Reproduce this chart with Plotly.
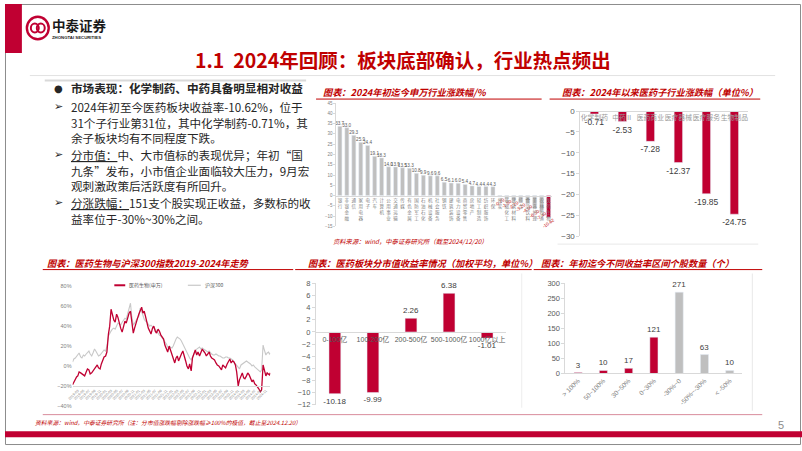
import plotly.graph_objects as go

# ---------------- data ----------------
sw_industries = ["银行", "非银金融", "通信", "家用电器", "电子", "汽车", "计算机", "公用事业",
                 "交通运输", "传媒", "有色金属", "国防军工", "石油石化", "机械设备", "社会服务",
                 "钢铁", "建筑装饰", "电力设备", "商贸零售", "房地产", "轻工制造", "纺织服饰",
                 "环保", "煤炭", "基础化工", "建筑材料", "综合", "食品饮料", "美容护理",
                 "农林牧渔", "医药生物"]
sw_returns = [33.7, 33.0, 29.3, 25.9, 24.4, 19.1, 18.3, 14.0, 13.9, 13.5, 13.3, 10.8, 9.9,
              9.6, 9.6, 6.5, 6.1, 6.0, 5.4, 4.7, 4.4, 4.4, 4.3, -0.7, -1.5, -2.2, -3.2,
              -4.0, -6.3, -7.4, -10.62]

sub_industries = ["化学制药", "中药Ⅱ", "医药商业", "医疗器械", "医疗服务", "生物制品"]
sub_returns = [-0.71, -2.53, -7.28, -12.37, -19.85, -24.75]

index_dates = [
    "2019-01-02", "2019-01-16", "2019-02-01", "2019-02-15", "2019-03-01", "2019-03-15",
    "2019-04-01", "2019-04-15", "2019-05-01", "2019-05-15", "2019-06-01", "2019-06-15",
    "2019-07-01", "2019-07-15", "2019-08-01", "2019-08-15", "2019-09-01", "2019-09-15",
    "2019-10-01", "2019-10-15", "2019-11-01", "2019-11-15", "2019-12-01", "2019-12-15",
    "2020-01-01", "2020-01-15", "2020-02-01", "2020-02-15", "2020-03-01", "2020-03-15",
    "2020-04-01", "2020-04-15", "2020-05-01", "2020-05-15", "2020-06-01", "2020-06-15",
    "2020-07-01", "2020-07-15", "2020-08-01", "2020-08-15", "2020-09-01", "2020-09-15",
    "2020-10-01", "2020-10-15", "2020-11-01", "2020-11-15", "2020-12-01", "2020-12-15",
    "2021-01-01", "2021-01-15", "2021-02-01", "2021-02-15", "2021-03-01", "2021-03-15",
    "2021-04-01", "2021-04-15", "2021-05-01", "2021-05-15", "2021-06-01", "2021-06-15",
    "2021-07-01", "2021-07-15", "2021-08-01", "2021-08-15", "2021-09-01", "2021-09-15",
    "2021-10-01", "2021-10-15", "2021-11-01", "2021-11-15", "2021-12-01", "2021-12-15",
    "2022-01-01", "2022-01-15", "2022-02-01", "2022-02-15", "2022-03-01", "2022-03-15",
    "2022-04-01", "2022-04-15", "2022-05-01", "2022-05-15", "2022-06-01", "2022-06-15",
    "2022-07-01", "2022-07-15", "2022-08-01", "2022-08-15", "2022-09-01", "2022-09-15",
    "2022-10-01", "2022-10-15", "2022-11-01", "2022-11-15", "2022-12-01", "2022-12-15",
    "2023-01-01", "2023-01-15", "2023-02-01", "2023-02-15", "2023-03-01", "2023-03-15",
    "2023-04-01", "2023-04-15", "2023-05-01", "2023-05-15", "2023-06-01", "2023-06-15",
    "2023-07-01", "2023-07-15", "2023-08-01", "2023-08-15", "2023-09-01", "2023-09-15",
    "2023-10-01", "2023-10-15", "2023-11-01", "2023-11-15", "2023-12-01", "2023-12-15",
    "2024-01-01", "2024-01-15", "2024-02-01", "2024-02-15", "2024-03-01", "2024-03-15",
    "2024-04-01", "2024-04-15", "2024-05-01", "2024-05-15", "2024-06-01", "2024-06-15",
    "2024-07-01", "2024-07-15", "2024-08-01", "2024-08-15", "2024-09-01", "2024-09-15",
    "2024-10-01", "2024-10-15", "2024-11-01", "2024-11-15", "2024-12-01", "2024-12-10",
    "2024-12-20"]
pharma_index = [
    -19, -16, -14, -11, -10, -6, -7, -8, -9, -10, -6, -3, -4, -8, -7, -5, -3, 0, 1, -2, -3, 2, 6, 9,
    10, 14, 32, 40, 57, 52, 46, 44, 52, 49, 42, 38, 34, 40, 45, 43, 49, 53, 55, 47, 33, 38, 44, 47,
    52, 56, 59, 53, 55, 50, 42, 38, 35, 32, 38, 40, 35, 33, 37, 35, 31, 29, 27, 21, 18, 14, 20, 16,
    10, 6, 3, 8, 10, 5, 8, 12, 15, 9, 5, 0, -3, 2, -5, 8, 14, 16, 11, 14, 10, 13, 17, 15,
    13, 10, 12, 14, 10, 8, 7, 6, 3, 1, 0, -2, -4, 1, -1, -2, 2, 5, 7, 3, 5, 4, 1, -6,
    -20, -14, -9, -7, -12, -13, -10, -7, -9, -12, -16, -14, -18, -19, -21, -23, -26, -24,
    1, -5, -10, -7, -8, -9, -7]
hs300_index = [
    4, 7, 8, 10, 11, 13, 9, 8, 11, 10, 12, 13, 15, 12, 10, 13, 17, 15, 12, 10, 11, 13, 14, 16,
    15, 20, 30, 33, 35, 37, 38, 37, 41, 43, 42, 41, 44, 46, 48, 47, 52, 56, 63, 50, 41, 43, 46, 48,
    50, 58, 55, 50, 47, 45, 44, 42, 40, 41, 39, 38, 37, 35, 33, 31, 30, 28, 27, 24, 22, 19, 17, 19,
    18, 20, 25, 27, 29, 28, 27, 25, 22, 18, 15, 12, 10, 8, 6, 9, 12, 15, 17, 18, 19, 17, 18, 17,
    16, 15, 14, 15, 13, 12, 11, 11, 12, 11, 10, 10, 9, 8, 8, 9, 9, 8, 8, 7, 6, 4, 2, 0,
    -1, -3, 1, 2, 3, 4, 5, 4, 3, 2, 0, 1, -1, -2, -3, -4, -6, -4,
    21, 16, 11, 13, 14, 12, 13]
series_names = ["医药生物(申万)", "沪深300"]

cap_buckets = ["0-100亿", "100-200亿", "200-500亿", "500-1000亿", "1000亿以上"]
cap_returns = [-10.18, -9.99, 2.26, 6.38, -1.01]

ret_bins = ["> 100%", "50~100%", "30~50%", "0~30%", "-30%~0", "-50%~-30%", "< -50%"]
bin_counts = [3, 10, 17, 121, 271, 63, 10]

# ---------------- helpers ----------------
W, H = 802, 451
def px(x): return x / W
def py(y): return 1 - y / H

RED = "#C00032"
TRED = "#C00000"
GRAY_BAR = "#BFBFBF"
GRAY_LINE = "#C8C8C8"
CJK = "Noto Sans CJK SC"
NUM = "Liberation Sans, Noto Sans CJK SC"

def vert(s):
    return "<br>".join(list(s))

fig = go.Figure()

# top-middle: SW industries
pos_idx = [i for i, v in enumerate(sw_returns) if v >= 0]
neg_idx = [i for i, v in enumerate(sw_returns) if v < 0]
fig.add_trace(go.Bar(
    x=[sw_industries[i] for i in pos_idx], y=[sw_returns[i] for i in pos_idx],
    marker_color=GRAY_BAR, width=0.58,
    text=[f"{sw_returns[i]:.1f}" for i in pos_idx], textposition="outside",
    textangle=0, constraintext="none", cliponaxis=False,
    textfont=dict(size=4.6, color="#595959", family=NUM),
    xaxis="x", yaxis="y", showlegend=False))
fig.add_trace(go.Bar(
    x=[sw_industries[i] for i in neg_idx], y=[sw_returns[i] for i in neg_idx],
    marker_color=[RED if sw_industries[i] == "医药生物" else GRAY_BAR for i in neg_idx],
    width=0.58,
    text=[f"{sw_returns[i]:.2f}" for i in neg_idx], textposition="outside",
    textangle=-35, constraintext="none", cliponaxis=False,
    textfont=dict(size=4.6, color=TRED, family=NUM),
    xaxis="x", yaxis="y", showlegend=False))

# top-right: pharma sub industries
fig.add_trace(go.Bar(
    x=sub_industries, y=sub_returns, marker_color=RED, width=0.3,
    text=[f"{v:.2f}" for v in sub_returns], textposition="outside", textangle=0,
    constraintext="none", cliponaxis=False,
    textfont=dict(size=8.5, color="#404040", family=NUM),
    xaxis="x2", yaxis="y2", showlegend=False))

# bottom-left: lines
fig.add_trace(go.Scatter(
    x=index_dates, y=hs300_index, mode="lines", name=series_names[1],
    line=dict(color=GRAY_LINE, width=1.1), xaxis="x3", yaxis="y3", showlegend=False))
fig.add_trace(go.Scatter(
    x=index_dates, y=pharma_index, mode="lines", name=series_names[0],
    line=dict(color=RED, width=1.3), xaxis="x3", yaxis="y3", showlegend=False))

# bottom-middle: market cap
fig.add_trace(go.Bar(
    x=cap_buckets, y=cap_returns, marker_color=RED, width=0.31,
    text=[f"{v:.2f}" for v in cap_returns], textposition="outside", textangle=0,
    constraintext="none", cliponaxis=False,
    textfont=dict(size=8, color="#404040", family=NUM),
    xaxis="x4", yaxis="y4", showlegend=False))

# bottom-right: return bins
fig.add_trace(go.Bar(
    x=ret_bins, y=bin_counts,
    marker_color=[RED if i < 4 else GRAY_BAR for i in range(len(ret_bins))], width=0.32,
    text=[str(v) for v in bin_counts], textposition="outside", textangle=0,
    constraintext="none", cliponaxis=False,
    textfont=dict(size=8, color="#404040", family=NUM),
    xaxis="x5", yaxis="y5", showlegend=False))

AX = dict(showgrid=False, zeroline=False, showline=True, linecolor="#D9D9D9",
          linewidth=1, fixedrange=True)

layout = dict(
    width=W, height=H, margin=dict(l=0, r=0, t=0, b=0),
    paper_bgcolor="white", plot_bgcolor="rgba(0,0,0,0)",
    barmode="overlay", font=dict(family=CJK), showlegend=False,
    xaxis=dict(AX, domain=[px(333.5), px(550.5)], range=[-0.5, 30.5], anchor="free",
               position=py(196), type="category", tickvals=sw_industries,
               ticktext=[vert(s) for s in sw_industries], ticks="", tickangle=0,
               tickfont=dict(size=4.5, color="#7F7F7F", family=CJK)),
    yaxis=dict(AX, domain=[py(227), py(101)], range=[-15.05, 45.05], dtick=5, anchor="x",
               ticks="outside", ticklen=2, tickcolor="#D9D9D9",
               tickfont=dict(size=4.5, color="#7F7F7F", family=NUM)),
    xaxis2=dict(AX, domain=[px(579), px(748)], range=[-0.5, 5.5], anchor="free",
                position=py(109), ticks="", tickangle=0,
                tickfont=dict(size=6.8, color="#9A9A9A", family=CJK)),
    yaxis2=dict(AX, domain=[py(237), py(109)], range=[-30.05, 0.05], dtick=5, anchor="x2",
                ticks="outside", ticklen=3, tickcolor="#D9D9D9",
                tickfont=dict(size=8, color="#595959", family=NUM)),
    xaxis3=dict(AX, type="date", domain=[px(68), px(267)],
                range=["2019-01-02", "2024-12-20"], anchor="free", position=py(390),
                dtick="M2", tick0="2019-01-01", tickformat="%Y-%m", tickangle=-45,
                ticks="", tickfont=dict(size=3.6, color="#7F7F7F", family=NUM)),
    yaxis3=dict(AX, domain=[py(410), py(288)], range=[-40.1, 80.1], dtick=20,
                ticksuffix="%", anchor="x3", showline=False,
                tickfont=dict(size=5.5, color="#7F7F7F", family=NUM)),
    xaxis4=dict(AX, domain=[px(312.8), px(504.3)], range=[-0.5, 4.5], anchor="free",
                position=py(335), ticks="", tickangle=0,
                tickfont=dict(size=7, color="#595959", family=NUM)),
    yaxis4=dict(AX, domain=[py(409), py(285)], range=[-12.03, 8.03], dtick=2, anchor="x4",
                ticks="outside", ticklen=3, tickcolor="#D9D9D9",
                tickfont=dict(size=7.5, color="#595959", family=NUM)),
    xaxis5=dict(AX, domain=[px(564), px(742)], range=[-0.5, 6.5], anchor="y5",
                ticks="", tickangle=-45,
                tickfont=dict(size=6.5, color="#7F7F7F", family=NUM)),
    yaxis5=dict(AX, domain=[py(377), py(285)], range=[0, 300.5], dtick=50, anchor="x5",
                ticks="outside", ticklen=3, tickcolor="#D9D9D9",
                tickfont=dict(size=7.5, color="#595959", family=NUM)),
)
fig.update_layout(**layout)

shapes = []
def line(x0, y0, x1, y1, color, width=1):
    shapes.append(dict(type="line", xref="paper", yref="paper", x0=px(x0), y0=py(y0),
                       x1=px(x1), y1=py(y1), line=dict(color=color, width=width)))
def rect(x0, y0, x1, y1, fill, lc=None, lw=0):
    shapes.append(dict(type="rect", xref="paper", yref="paper", x0=px(x0), y0=py(y0),
                       x1=px(x1), y1=py(y1), fillcolor=fill,
                       line=dict(color=lc or fill, width=lw)))

# slide frame and decorations
rect(0.5, 0.5, 800.5, 449.5, "rgba(0,0,0,0)", "#8C8C8C", 1)
rect(0, 0, 17, 50, RED)
rect(0, 436, 802, 442, RED)
line(25, 73, 775, 73, "#E3E3E3", 1)
line(40, 78, 303, 78, "#D9D9D9", 2)
# chart title underlines
line(313, 97, 540, 97, TRED, 1)
line(548, 97, 760, 97, TRED, 1)
line(38, 271, 290, 271, TRED, 1)
line(292, 271, 530, 271, TRED, 1)
line(532, 271, 762, 271, TRED, 1)
line(38, 419, 762, 419, "#D98C9C", 1)
# faint chart frames
line(556, 245, 758, 245, "#E8E8E8", 1)
line(752, 275, 752, 415, "#E8E8E8", 1)
line(520, 275, 520, 412, "#EDEDED", 1)
# legend keys of the line chart
line(110, 287, 121, 287, RED, 2)
line(184, 287, 197, 287, GRAY_LINE, 1.2)
# logo
shapes.append(dict(type="circle", xref="paper", yref="paper", x0=px(22), y0=py(13),
                   x1=px(44), y1=py(36), line=dict(color=RED, width=2.4)))
shapes.append(dict(type="circle", xref="paper", yref="paper", x0=px(26), y0=py(20),
                   x1=px(34), y1=py(29), line=dict(color=RED, width=2)))
shapes.append(dict(type="circle", xref="paper", yref="paper", x0=px(32), y0=py(20),
                   x1=px(40), y1=py(29), line=dict(color=RED, width=2)))
fig.update_layout(shapes=shapes)

ann = []
def text(x, y, s, size, color="#262626", xanchor="left", family=CJK, yanchor="middle"):
    ann.append(dict(x=px(x), y=py(y), xref="paper", yref="paper", text=s, showarrow=False,
                    xanchor=xanchor, yanchor=yanchor,
                    font=dict(size=size, color=color, family=family)))

text(45, 21, "<b>中泰证券</b>", 13.5, "#1A1A1A")
text(45, 34, "<b>ZHONGTAI SECURITIES</b>", 4.3, "#1A1A1A", family=NUM)
text(400, 57, "<b>1.1\u00a0\u00a02024年回顾：板块底部确认，行业热点频出</b>", 19.5, TRED, "center")

body = [
    (86, "<b>市场表现：化学制药、中药具备明显相对收益</b>", "●"),
    (105, "2024年初至今医药板块收益率-10.62%，位于", "➢"),
    (121, "31个子行业第31位，其中化学制药-0.71%，其", None),
    (137, "余子板块均有不同程度下跌。", None),
    (154, "<u>分市值：</u>中、大市值标的表现优异；年初“国", "➢"),
    (170, "九条”发布，小市值企业面临较大压力，9月宏", None),
    (186, "观刺激政策后活跃度有所回升。", None),
    (203, "<u>分涨跌幅：</u>151支个股实现正收益，多数标的收", "➢"),
    (219, "益率位于-30%~30%之间。", None),
]
for y, s, b in body:
    text(64, y, s, 11.6, "#262626")
    if b:
        text(47, y, b, 10 if b == "●" else 11, "#262626", family="DejaVu Sans")

titles = [
    (318, 90, "图表：2024年初迄今申万行业涨跌幅/%"),
    (558, 90, "图表：2024年以来医药子行业涨跌幅（单位%）"),
    (40, 264, "图表：医药生物与沪深300指数2019-2024年走势"),
    (303, 264, "图表：医药板块分市值收益率情况（加权平均，单位%）"),
    (537, 264, "图表：年初迄今不同收益率区间个股数量（个）"),
]
for x, y, s in titles:
    text(x, y, f"<b><i>{s}</i></b>", 9.2, TRED)

# legend labels of the line chart
text(123, 287, series_names[0], 5, "#595959")
text(199, 287, series_names[1], 5, "#595959")

text(328, 242, "<i>资料来源：wind，中泰证券研究所（截至2024/12/20）</i>", 6.3, TRED)
text(28, 427, "<i>资料来源：wind，中泰证券研究所（注：分市值涨跌幅剔除涨跌幅≥100%的极值，截止至2024.12.20）</i>", 5.8, TRED)
text(776, 430, "5", 11, "#8C8C8C", family=NUM)

fig.update_layout(annotations=ann)
fig.write_html("out.html")
